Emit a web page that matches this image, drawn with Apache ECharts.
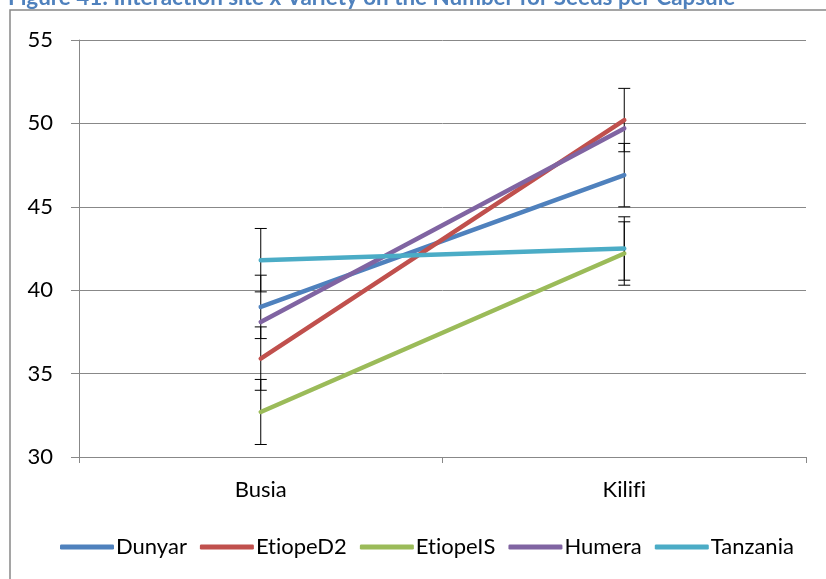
<!DOCTYPE html>
<html>
<head>
<meta charset="utf-8">
<script src="https://cdn.jsdelivr.net/npm/echarts@6/dist/echarts.min.js"></script>
<style>html,body{margin:0;padding:0;background:#fff;}#c{width:826px;height:579px;}</style>
</head>
<body>
<div id="c"></div>
<script>
const categories = ['Busia', 'Kilifi'];
const seriesNames = ['Dunyar', 'EtiopeD2', 'EtiopeIS', 'Humera', 'Tanzania'];
const dunyar = [39.0, 46.9];
const etiopeD2 = [35.9, 50.2];
const etiopeIS = [32.7, 42.2];
const humera = [38.1, 49.7];
const tanzania = [41.8, 42.5];
const errDunyar = [1.9, 1.9];
const errEtiopeD2 = [1.9, 1.9];
const errEtiopeIS = [1.95, 1.9];
const errTanzania = [1.9, 1.9];
const yTicks = [30, 35, 40, 45, 50, 55];
const colors = ['#4F81BD', '#C0504D', '#9BBB59', '#8064A2', '#4BACC6'];
const titleText = 'Figure 41: Interaction site x Variety on the Number for Seeds per Capsule';

const values = [dunyar, etiopeD2, etiopeIS, humera, tanzania];
const errs = [errDunyar, errEtiopeD2, errEtiopeIS, null, errTanzania];

const errData = [];
values.forEach((v, s) => {
  if (!errs[s]) return;
  v.forEach((y, i) => errData.push([i, y - errs[s][i], y + errs[s][i]]));
});

// avoid font ligatures (fi, ti) so text looks like the reference
const noLig = s => String(s).split('').join('\u200C');

const font = 'Lato, "Open Sans", sans-serif';
const chart = echarts.init(document.getElementById('c'));
const series = values.map((v, s) => ({
  name: seriesNames[s],
  type: 'line',
  data: v,
  symbol: 'none',
  z: 3,
  lineStyle: { width: 4.5, color: colors[s], cap: 'round' },
  itemStyle: { color: colors[s] }
}));
series.unshift({
  type: 'custom',
  name: 'err',
  z: 2,
  data: errData,
  renderItem: function (params, api) {
    const x = api.value(0);
    const lo = api.coord([x, api.value(1)]);
    const hi = api.coord([x, api.value(2)]);
    const w = 6;
    const st = { stroke: '#000', lineWidth: 1 };
    return {
      type: 'group',
      children: [
        { type: 'line', shape: { x1: lo[0], y1: lo[1], x2: hi[0], y2: hi[1] }, style: st },
        { type: 'line', shape: { x1: lo[0] - w, y1: lo[1], x2: lo[0] + w, y2: lo[1] }, style: st },
        { type: 'line', shape: { x1: hi[0] - w, y1: hi[1], x2: hi[0] + w, y2: hi[1] }, style: st }
      ]
    };
  },
  silent: true
});

chart.setOption({
  animation: false,
  textStyle: { fontFamily: font },
  graphic: [
    { type: 'rect', shape: { x: 10, y: 10, width: 900, height: 700 }, style: { fill: 'none', stroke: '#888', lineWidth: 1.5 }, z: -1 },
    { type: 'text', x: 8, y: 9, style: { text: titleText, fill: '#4F81BD', font: 'bold 22.4px Lato, sans-serif', textVerticalAlign: 'bottom' } }
  ],
  legend: {
    data: seriesNames,
    bottom: 16,
    left: 55,
    itemWidth: 54,
    itemHeight: 5,
    itemGap: 13,
    icon: 'roundRect',
    formatter: noLig,
    textStyle: { fontSize: 22, color: '#000', fontFamily: font, padding: [0, 0, 0, -3] }
  },
  grid: { left: 79, right: 20, top: 40, bottom: 122 },
  xAxis: {
    type: 'category',
    data: categories,
    boundaryGap: true,
    axisLine: { lineStyle: { color: '#888', width: 1 } },
    axisTick: { show: true, length: 6, lineStyle: { color: '#888' } },
    axisLabel: { fontSize: 22, color: '#000', margin: 22, fontFamily: font, formatter: noLig }
  },
  yAxis: {
    type: 'value',
    min: 30, max: 55, interval: 5,
    axisLine: { show: true, lineStyle: { color: '#888', width: 1 } },
    axisTick: { show: true, length: 8, lineStyle: { color: '#888' } },
    axisLabel: { fontSize: 22, color: '#000', margin: 26, fontFamily: font,
      formatter: v => yTicks.includes(v) ? String(v) : '' },
    splitLine: { lineStyle: { color: '#888', width: 1 } }
  },
  series: series
});
</script>
</body>
</html>
